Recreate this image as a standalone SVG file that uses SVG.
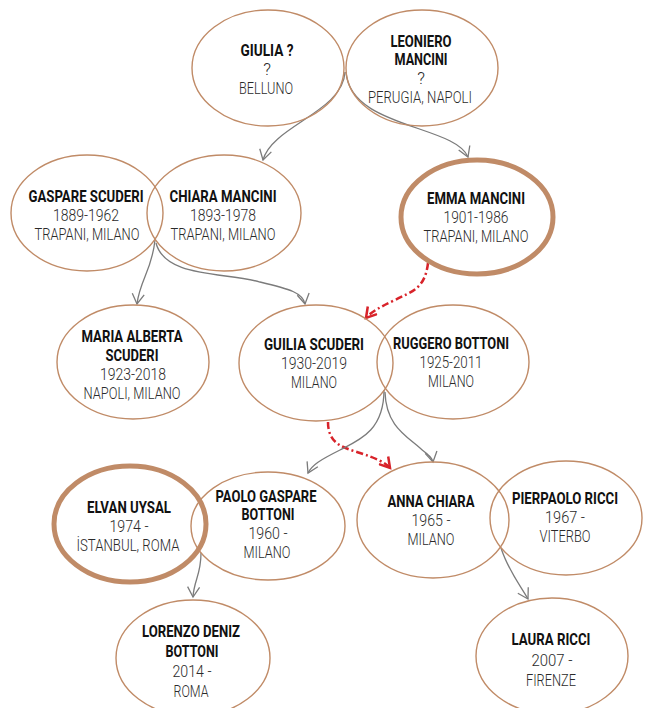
<svg xmlns="http://www.w3.org/2000/svg" width="651" height="708" viewBox="0 0 651 708">
<style>
.n{fill:none;stroke:#c08b67;stroke-width:1.4}
.t{fill:none;stroke:#c08b67;stroke-width:5}
text{font-family:Roboto,"DejaVu Sans Condensed","Liberation Sans",sans-serif;font-size:17px;font-weight:300;text-anchor:middle;fill:#2a2a2a}
.b{font-weight:bold;font-size:16px;fill:#111}
.c{fill:none;stroke:#7b7b7b;stroke-width:1.3}
.r{fill:none;stroke:#d8232a;stroke-width:2.5;stroke-dasharray:7 3 2 3}
</style>
<defs>
<marker id="ag" markerUnits="userSpaceOnUse" markerWidth="14" markerHeight="14" refX="11" refY="6" orient="auto" viewBox="0 0 14 12">
<path d="M1,0 L11,6 L1,12" fill="none" stroke="#7b7b7b" stroke-width="1.3"/>
</marker>
<marker id="ar" markerUnits="userSpaceOnUse" markerWidth="14" markerHeight="14" refX="11" refY="6" orient="auto" viewBox="0 0 14 12">
<path d="M1,0 L11,6 L1,12" fill="none" stroke="#d8232a" stroke-width="2.5"/>
</marker>
</defs>
<g id="connectors">
<path class="c" d="M345,72 C343,112 272,126 263,160" marker-end="url(#ag)"/>
<path class="c" d="M346,72 C350,128 455,125 468,157" marker-end="url(#ag)"/>
<path class="c" d="M155,240 C152,270 140,280 137,304" marker-end="url(#ag)"/>
<path class="c" d="M156,243 C165,278 225,272 260,282 C290,289 303,293 305,304" marker-end="url(#ag)"/>
<path class="r" d="M428,263 C425,290 410,292 395,300 C380,307 371,312 366,318" marker-end="url(#ar)"/>
<path class="r" d="M328,422 C328,445 345,448 360,453 C375,458 385,462 390,468" marker-end="url(#ar)"/>
<path class="c" d="M384,390 C384,430 360,440 340,450 C320,460 312,465 308,473" marker-end="url(#ag)"/>
<path class="c" d="M385,392 C386,425 405,435 420,448 C428,455 432,457 433,462" marker-end="url(#ag)"/>
<path class="c" d="M201,553 C201,575 194,580 193,597" marker-end="url(#ag)"/>
<path class="c" d="M501,548 C508,570 520,585 528,599" marker-end="url(#ag)"/>
</g>
<g id="giulia"><ellipse class="n" cx="268" cy="68" rx="76" ry="58"/>
<text class="b" x="267" y="56" textLength="53" lengthAdjust="spacingAndGlyphs">GIULIA ?</text><text x="267" y="75">?</text><text x="266" y="94" textLength="54" lengthAdjust="spacingAndGlyphs">BELLUNO</text></g>
<g id="leoniero"><ellipse class="n" cx="422" cy="68" rx="76" ry="58"/>
<text class="b" x="421" y="47" textLength="61" lengthAdjust="spacingAndGlyphs">LEONIERO</text><text class="b" x="421" y="65" textLength="53" lengthAdjust="spacingAndGlyphs">MANCINI</text><text x="421" y="84">?</text><text x="420" y="103" textLength="104" lengthAdjust="spacingAndGlyphs">PERUGIA, NAPOLI</text></g>
<g id="gaspare"><ellipse class="n" cx="87" cy="213" rx="76" ry="58"/>
<text class="b" x="86" y="202" textLength="115" lengthAdjust="spacingAndGlyphs">GASPARE SCUDERI</text><text x="86" y="221" textLength="66" lengthAdjust="spacingAndGlyphs">1889-1962</text><text x="87" y="240" textLength="105" lengthAdjust="spacingAndGlyphs">TRAPANI, MILANO</text></g>
<g id="chiara"><ellipse class="n" cx="224" cy="213" rx="77" ry="58"/>
<text class="b" x="223" y="202" textLength="107" lengthAdjust="spacingAndGlyphs">CHIARA MANCINI</text><text x="223" y="221" textLength="66" lengthAdjust="spacingAndGlyphs">1893-1978</text><text x="223" y="240" textLength="105" lengthAdjust="spacingAndGlyphs">TRAPANI, MILANO</text></g>
<g id="emma"><ellipse class="t" cx="477" cy="217" rx="76" ry="57"/>
<text class="b" x="476" y="204" textLength="98" lengthAdjust="spacingAndGlyphs">EMMA MANCINI</text><text x="476" y="223" textLength="65" lengthAdjust="spacingAndGlyphs">1901-1986</text><text x="476" y="242" textLength="105" lengthAdjust="spacingAndGlyphs">TRAPANI, MILANO</text></g>
<g id="maria"><ellipse class="n" cx="133" cy="362" rx="76" ry="57"/>
<text class="b" x="132" y="342" textLength="101" lengthAdjust="spacingAndGlyphs">MARIA ALBERTA</text><text class="b" x="132" y="361" textLength="53" lengthAdjust="spacingAndGlyphs">SCUDERI</text><text x="133" y="380" textLength="66" lengthAdjust="spacingAndGlyphs">1923-2018</text><text x="132" y="399" textLength="97" lengthAdjust="spacingAndGlyphs">NAPOLI, MILANO</text></g>
<g id="guilia"><ellipse class="n" cx="316" cy="363" rx="77" ry="58"/>
<text class="b" x="314" y="350" textLength="100" lengthAdjust="spacingAndGlyphs">GUILIA SCUDERI</text><text x="314" y="369" textLength="66" lengthAdjust="spacingAndGlyphs">1930-2019</text><text x="314" y="388" textLength="46" lengthAdjust="spacingAndGlyphs">MILANO</text></g>
<g id="ruggero"><ellipse class="n" cx="453" cy="362" rx="76" ry="57"/>
<text class="b" x="451" y="349" textLength="116" lengthAdjust="spacingAndGlyphs">RUGGERO BOTTONI</text><text x="451" y="368" textLength="63" lengthAdjust="spacingAndGlyphs">1925-2011</text><text x="451" y="387" textLength="46" lengthAdjust="spacingAndGlyphs">MILANO</text></g>
<g id="elvan"><ellipse class="t" cx="130" cy="524" rx="76" ry="58"/>
<text class="b" x="129" y="513" textLength="84" lengthAdjust="spacingAndGlyphs">ELVAN UYSAL</text><text x="129" y="532" textLength="39" lengthAdjust="spacingAndGlyphs">1974 -</text><text x="128" y="551" textLength="103" lengthAdjust="spacingAndGlyphs">İSTANBUL, ROMA</text></g>
<g id="paolo"><ellipse class="n" cx="268" cy="526" rx="77" ry="54"/>
<text class="b" x="266" y="502" textLength="101" lengthAdjust="spacingAndGlyphs">PAOLO GASPARE</text><text class="b" x="268" y="520" textLength="53" lengthAdjust="spacingAndGlyphs">BOTTONI</text><text x="268" y="539" textLength="39" lengthAdjust="spacingAndGlyphs">1960 -</text><text x="267" y="558" textLength="47" lengthAdjust="spacingAndGlyphs">MILANO</text></g>
<g id="anna"><ellipse class="n" cx="433" cy="520" rx="76" ry="58"/>
<text class="b" x="431" y="507" textLength="87" lengthAdjust="spacingAndGlyphs">ANNA CHIARA</text><text x="431" y="526" textLength="39" lengthAdjust="spacingAndGlyphs">1965 -</text><text x="431" y="545" textLength="47" lengthAdjust="spacingAndGlyphs">MILANO</text></g>
<g id="pierpaolo"><ellipse class="n" cx="566" cy="518" rx="76" ry="57"/>
<text class="b" x="565" y="504" textLength="106" lengthAdjust="spacingAndGlyphs">PIERPAOLO RICCI</text><text x="565" y="523" textLength="40" lengthAdjust="spacingAndGlyphs">1967 -</text><text x="565" y="542" textLength="51" lengthAdjust="spacingAndGlyphs">VITERBO</text></g>
<g id="lorenzo"><ellipse class="n" cx="193" cy="658" rx="77" ry="58"/>
<text class="b" x="191" y="637" textLength="98" lengthAdjust="spacingAndGlyphs">LORENZO DENIZ</text><text class="b" x="192" y="657" textLength="53" lengthAdjust="spacingAndGlyphs">BOTTONI</text><text x="192" y="677" textLength="39" lengthAdjust="spacingAndGlyphs">2014 -</text><text x="191" y="697" textLength="35" lengthAdjust="spacingAndGlyphs">ROMA</text></g>
<g id="laura"><ellipse class="n" cx="552" cy="656" rx="76" ry="58"/>
<text class="b" x="551" y="645" textLength="79" lengthAdjust="spacingAndGlyphs">LAURA RICCI</text><text x="552" y="666" textLength="41" lengthAdjust="spacingAndGlyphs">2007 -</text><text x="551" y="686" textLength="50" lengthAdjust="spacingAndGlyphs">FIRENZE</text></g>
</svg>
